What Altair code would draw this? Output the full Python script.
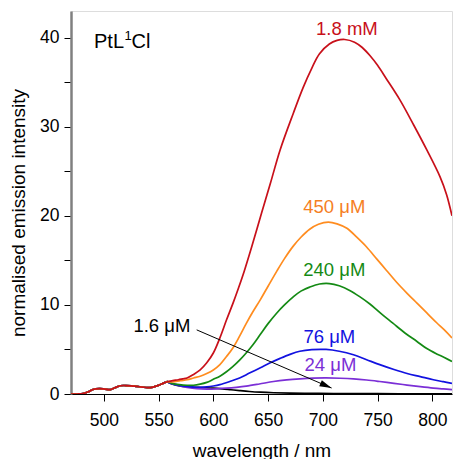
import math
import altair as alt
import pandas as pd

# ---------------- data ----------------
# shared baseline of all spectra (470-558 nm)
base_nm = [470, 476, 481, 486, 490, 496, 501, 506, 510, 515, 520, 525, 530, 535, 540, 545, 550, 555, 558]
base_val = [0, 0, 0.05, 0.25, 0.5, 0.6, 0.55, 0.5, 0.7, 0.93, 0.95, 0.92, 0.85, 0.78, 0.72, 0.78, 0.98, 1.25, 1.38]

red_nm = [563, 568, 572, 576, 582, 588, 594, 600, 606, 612, 618, 623, 628, 635, 644, 652, 661, 673, 682, 690,
          697, 706, 713, 720, 729, 736, 743, 750, 758, 770, 783, 795, 807, 813, 818]
red_val = [1.5, 1.6, 1.7, 1.8, 2.2, 2.7, 3.5, 4.6, 6.3, 8.3, 10.2, 11.9, 13.7, 16.5, 20.3, 23.6, 27.4, 31.5, 34.4, 36.6,
           38.2, 39.3, 39.7, 39.8, 39.5, 38.9, 38.0, 36.9, 35.4, 33.1, 30.2, 27.4, 24.4, 22.4, 20.0]

orange_nm = [563, 570, 576, 582, 588, 594, 600, 606, 612, 618, 624, 630, 636, 643, 650, 658, 665, 673, 680, 688,
             696, 705, 713, 722, 731, 740, 749, 758, 767, 777, 786, 795, 804, 811, 818]
orange_val = [1.35, 1.5, 1.6, 1.8, 2.0, 2.3, 2.7, 3.3, 4.2, 5.2, 6.5, 7.9, 9.2, 10.6, 12.1, 13.8, 15.2, 16.6, 17.6, 18.5,
              19.05, 19.3, 19.1, 18.6, 17.6, 16.5, 15.2, 13.9, 12.6, 11.3, 10.2, 9.1, 8.0, 7.2, 6.3]

green_nm = [562, 569, 576, 582, 588, 594, 600, 606, 612, 618, 624, 630, 636, 643, 650, 658, 665, 673, 680, 688,
            697, 706, 715, 725, 734, 743, 753, 764, 775, 786, 795, 804, 811, 818]
green_val = [1.2, 1.05, 0.98, 0.98, 1.1, 1.3, 1.65, 2.0, 2.5, 3.1, 3.8, 4.6, 5.5, 6.7, 7.9, 9.1, 10.0, 10.9, 11.55, 12.0,
             12.35, 12.4, 12.15, 11.6, 10.9, 10.1, 9.05, 7.95, 6.85, 5.9, 5.1, 4.5, 4.1, 3.65]

blue_nm = [560, 568, 576, 582, 588, 594, 600, 606, 615, 624, 633, 643, 652, 661, 670, 679, 690, 703, 715, 728,
           740, 752, 765, 777, 789, 801, 810, 818]
blue_val = [1.25, 1.0, 0.85, 0.78, 0.76, 0.8, 0.9, 1.05, 1.4, 1.8, 2.35, 2.95, 3.5, 4.0, 4.45, 4.8, 4.98, 5.0, 4.8, 4.4,
            3.85, 3.3, 2.75, 2.3, 1.95, 1.6, 1.38, 1.2]

purple_nm = [560, 568, 576, 585, 594, 603, 612, 621, 630, 642, 655, 667, 679, 691, 703, 716, 728, 740, 752, 765,
             777, 789, 801, 810, 818]
purple_val = [1.25, 0.95, 0.75, 0.6, 0.55, 0.58, 0.65, 0.75, 0.88, 1.12, 1.4, 1.58, 1.7, 1.78, 1.8, 1.77, 1.7, 1.57, 1.4, 1.2,
              1.0, 0.82, 0.66, 0.57, 0.5]

black_nm = [560, 566, 572, 580, 590, 600, 608, 616, 624, 633, 643, 655, 670, 690, 710, 740, 770, 818]
black_val = [1.25, 1.0, 0.85, 0.78, 0.72, 0.66, 0.58, 0.48, 0.38, 0.28, 0.2, 0.14, 0.1, 0.07, 0.05, 0.04, 0.03, 0.02]

series_names = ["1.6 μM", "24 μM", "76 μM", "240 μM", "450 μM", "1.8 mM"]
series_colors = ["#000000", "#7b2fd6", "#1212e0", "#148a14", "#ff8c1f", "#c8101a"]
series_nm = [black_nm, purple_nm, blue_nm, green_nm, orange_nm, red_nm]
series_val = [black_val, purple_val, blue_val, green_val, orange_val, red_val]

# curve labels
label_text = ["1.8 mM", "450 μM", "240 μM", "76 μM", "24 μM", "1.6 μM"]
label_nm = [722, 710.5, 710.5, 706, 707, 553]
label_val = [41.0, 21.05, 13.95, 6.45, 3.3, 7.6]
label_color = ["#c8101a", "#f5801f", "#148a14", "#1212e0", "#7b2fd6", "#000000"]

# arrow from the 1.6 μM label to its curve
arrow_start = (584.8, 7.2)
arrow_tip = (708.0, 0.67)

# compound name anchor
name_nm, name_val = 491, 39.5

x_ticks = [500, 550, 600, 650, 700, 750, 800]
y_ticks = [0, 5, 10, 15, 20, 25, 30, 35, 40]

X_DOM = [470, 818]
Y_DOM = [0, 43]
W, H = 381, 383
FONT = "Liberation Sans"

xs = alt.Scale(domain=X_DOM, nice=False, zero=False)
ys = alt.Scale(domain=Y_DOM, nice=False, zero=False)

x_axis = alt.Axis(values=x_ticks, title="wavelength / nm", grid=False, tickSize=7, tickColor="black",
                  domainColor="black", domainWidth=1.2, labelFontSize=17.5, labelPadding=10,
                  labelFlush=False, labelColor="black", titleFontSize=19, titleFontWeight="normal",
                  titleColor="black", titleY=56, titleBaseline="middle")
y_axis = alt.Axis(values=y_ticks, title="normalised emission intensity", grid=False, tickSize=7,
                  tickColor="black", domainColor="#808080", domainWidth=2.5, labelFontSize=17.5,
                  labelPadding=5, labelColor="black",
                  labelExpr="datum.value % 10 == 0 ? datum.label : ''",
                  titleFontSize=19, titleFontWeight="normal", titleColor="black",
                  titleX=-53, titleY=201.5, titleBaseline="middle")


def X(field="nm"):
    return alt.X(f"{field}:Q", scale=xs, axis=x_axis)


def Y(field="val"):
    return alt.Y(f"{field}:Q", scale=ys, axis=y_axis)


layers = []
for name, color, nm, val in zip(series_names, series_colors, series_nm, series_val):
    df = pd.DataFrame({"nm": base_nm + nm, "val": base_val + val})
    layers.append(
        alt.Chart(df).mark_line(color=color, strokeWidth=1.7, interpolate="catmull-rom", clip=True)
        .encode(x=X(), y=Y())
    )

lab_df = pd.DataFrame({"nm": label_nm, "val": label_val, "t": label_text, "c": label_color})
layers.append(
    alt.Chart(lab_df).mark_text(fontSize=18.5, font=FONT, align="center", baseline="middle")
    .encode(x=X(), y=Y(), text="t:N", color=alt.Color("c:N", scale=None))
)

arr_df = pd.DataFrame({"nm": [arrow_start[0]], "val": [arrow_start[1]],
                       "nm2": [arrow_tip[0]], "val2": [arrow_tip[1]]})
layers.append(
    alt.Chart(arr_df).mark_rule(color="black", strokeWidth=1)
    .encode(x=X(), y=Y(), x2="nm2:Q", y2="val2:Q")
)
dxp = (arrow_tip[0] - arrow_start[0]) * W / (X_DOM[1] - X_DOM[0])
dyp = (arrow_start[1] - arrow_tip[1]) * H / (Y_DOM[1] - Y_DOM[0])
ang = math.degrees(math.atan2(dyp, dxp))
tip_df = pd.DataFrame({"nm": [arrow_tip[0]], "val": [arrow_tip[1]]})
layers.append(
    alt.Chart(tip_df).mark_point(shape="M0,0L-2,-0.55L-2,0.55Z", filled=True, color="black",
                                 opacity=1, size=144, angle=ang)
    .encode(x=X(), y=Y())
)

name_df = pd.DataFrame({"nm": [name_nm], "val": [name_val]})
layers.append(alt.Chart(name_df).mark_text(text="PtL", fontSize=20, font=FONT, align="left",
                                           baseline="middle", color="black").encode(x=X(), y=Y()))
layers.append(alt.Chart(name_df).mark_text(text="1", fontSize=13, font=FONT, align="left",
                                           baseline="middle", color="black", dx=30.5, dy=-6)
              .encode(x=X(), y=Y()))
layers.append(alt.Chart(name_df).mark_text(text="Cl", fontSize=20, font=FONT, align="left",
                                           baseline="middle", color="black", dx=37.5)
              .encode(x=X(), y=Y()))

chart = (
    alt.layer(*layers)
    .properties(width=W, height=H, autosize="none",
                padding={"left": 71, "top": 11, "right": 3, "bottom": 65})
    .configure_view(stroke="#1a1a1a", strokeWidth=1)
    .configure(font=FONT, background="white")
)

chart.save("out.html", embed_options={"renderer": "svg", "actions": False})
